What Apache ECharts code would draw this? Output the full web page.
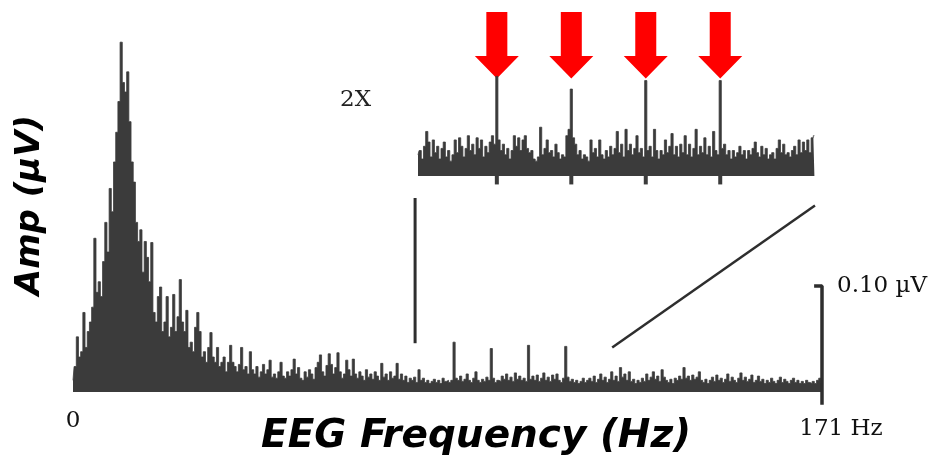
<!DOCTYPE html>
<html>
<head>
<meta charset="utf-8">
<script src="https://cdn.jsdelivr.net/npm/echarts@6/dist/echarts.min.js"></script>
<style>
html,body{margin:0;padding:0;background:#fff;}
#c{width:941px;height:459px;}
</style>
</head>
<body>
<div id="c"></div>
<script>
// ---- Data (amplitudes in nV, converted to µV for the axes) ----
const mainStartHz = 0;
const mainStepHz = 0.5;
const mainAmpNv = [
11,24,52,33,38,75,42,57,66,80,145,94,104,90,123,160,132,192,170,217,
245,274,330,292,283,302,255,217,198,160,142,153,113,142,127,104,141,75,66,90,
99,57,66,90,52,61,92,57,71,106,66,57,77,42,47,38,61,75,57,33,
38,28,42,56,33,28,42,24,28,33,19,28,44,28,24,19,26,42,21,24,
17,38,21,17,24,14,19,26,17,21,30,14,17,13,19,28,15,13,19,15,
21,31,17,23,13,11,19,14,21,17,12,23,28,35,19,15,25,36,26,17,
23,37,19,13,17,30,21,15,31,17,13,19,15,11,21,14,17,12,19,15,
11,27,14,17,11,19,13,15,27,12,17,11,15,9,13,11,14,9,21,11,
13,9,11,8,10,12,9,11,8,13,10,11,9,11,47,13,11,15,10,12,
17,11,9,13,19,11,9,12,10,14,11,41,13,9,11,10,15,12,17,11,
14,10,18,12,15,11,13,10,44,12,15,11,16,10,13,18,11,14,10,16,
12,17,11,9,13,43,14,10,12,9,11,8,10,13,9,11,13,10,15,9,
12,17,11,14,9,12,19,11,15,10,23,14,17,11,19,10,12,8,11,9,
13,10,17,11,14,19,12,15,10,21,14,11,9,12,8,13,11,15,12,23,
13,15,11,16,12,14,19,11,9,12,8,11,14,10,16,11,13,9,12,17,
10,14,11,9,13,18,11,14,10,12,16,9,11,15,10,12,8,11,9,13,
10,8,11,14,9,12,10,8,11,13,9,11,8,10,8,11,9,8,10,8,
11,13,9
];
const insetStartHz = 78;
const insetStepHz = 0.25;
const insetAmpNv = [
10,12,8,14,21,16,9,17,11,14,8,13,16,9,12,7,10,17,11,18,
14,9,13,19,12,15,10,18,13,17,9,14,11,16,19,15,47,17,12,15,
10,13,8,12,19,14,18,12,17,19,13,11,12,8,7,9,23,10,13,17,
11,12,9,15,11,8,10,9,19,22,41,18,15,10,12,8,10,9,7,17,
11,13,9,17,10,8,12,9,14,10,13,21,11,15,9,22,12,15,10,13,
19,11,13,9,45,12,14,9,22,12,8,12,10,17,11,14,20,10,14,9,
15,11,19,10,15,9,13,22,10,14,11,18,10,14,9,21,12,10,45,13,
15,10,12,8,12,9,11,14,10,12,8,12,10,13,16,11,9,14,10,13,
8,10,11,8,13,17,11,15,10,11,9,12,14,10,17,11,16,12,17,11,
18,19
];
const spikeHz = [87, 95.5, 104, 112.5];
const arrowLevelNv = 46;
const insetTickNv = -4;
const scaleBarHz = 171;
const scaleBarTopNv = 100;
const scaleBarBottomNv = -12;
const scaleBarTickHz = 169.2;
const scaleBarLabel = '0.10 µV';
const zoomGuideVertical = [[78.1, 183], [78.1, 46]];
const zoomGuideDiagonal = [[123.1, 42], [169.4, 176]];
const xTickLabels = ['0', '171 Hz'];
const insetLabel = '2X';
const xTitle = 'EEG Frequency (Hz)';
const yTitle = 'Amp (µV)';

const uv = nv => nv / 1000;
const mainData = mainAmpNv.map((v, i) => [mainStartHz + i * mainStepHz, uv(v)]);
const insetData = insetAmpNv.map((v, i) => [insetStartHz + i * insetStepHz, uv(v)]);

const SPEC = '#3b3b3b';
const serif = '"DejaVu Serif", "Liberation Serif", serif';
const sans = '"DejaVu Sans", Verdana, sans-serif';

const chart = echarts.init(document.getElementById('c'), null, {renderer: 'canvas'});
chart.setOption({
  animation: false,
  backgroundColor: '#ffffff',
  grid: [
    {left: 73, width: 749, top: 23.1, height: 381.6},
    {left: 418, width: 396.4, top: 48.8, height: 136.7}
  ],
  xAxis: [
    {gridIndex: 0, type: 'value', min: 0, max: 171, interval: 171,
     axisLine: {show: false}, axisTick: {show: false}, splitLine: {show: false},
     axisLabel: {show: true, margin: 5, showMinLabel: true, showMaxLabel: true,
       formatter: v => v === 0 ? '{a|' + xTickLabels[0] + '}' : '{b|' + xTickLabels[1] + '}',
       rich: {
         a: {fontFamily: serif, fontSize: 23, color: '#111', padding: [0, 0, 0, 0]},
         b: {fontFamily: serif, fontSize: 23, color: '#111', padding: [8, 0, 0, 38]}
       }}},
    {gridIndex: 1, type: 'value', min: 78, max: 123.25, show: false}
  ],
  yAxis: [
    {gridIndex: 0, type: 'value', min: -0.012, max: 0.348, show: false},
    {gridIndex: 1, type: 'value', min: -0.0045, max: 0.06, show: false}
  ],
  series: [
    {type: 'line', xAxisIndex: 0, yAxisIndex: 0, data: mainData, step: 'middle',
     showSymbol: false, symbol: 'none', silent: true,
     lineStyle: {color: SPEC, width: 0.8}, areaStyle: {color: SPEC, opacity: 1, origin: 0}},
    {type: 'line', xAxisIndex: 1, yAxisIndex: 1, data: insetData, step: 'middle',
     showSymbol: false, symbol: 'none', silent: true,
     lineStyle: {color: SPEC, width: 0.8}, areaStyle: {color: SPEC, opacity: 1, origin: 0}},
    {type: 'bar', xAxisIndex: 1, yAxisIndex: 1, barWidth: 4, silent: true,
     itemStyle: {color: SPEC},
     data: spikeHz.map(f => [f, uv(insetTickNv)])},
    {type: 'scatter', xAxisIndex: 1, yAxisIndex: 1, clip: false, silent: true,
     symbol: 'path://M11.5,0 L32.5,0 L32.5,44 L44,44 L22,66.5 L0,44 L11.5,44 Z',
     symbolSize: [44, 66.5], symbolOffset: [0, '-50%'],
     itemStyle: {color: '#ff0000', opacity: 1},
     data: spikeHz.map(f => [f, uv(arrowLevelNv)])},
    {type: 'line', xAxisIndex: 0, yAxisIndex: 0, silent: true, symbol: 'none', clip: false,
     lineStyle: {color: '#2e2e2e', width: 3.5},
     data: [[scaleBarTickHz, uv(scaleBarTopNv)], [scaleBarHz, uv(scaleBarTopNv)], [scaleBarHz, uv(scaleBarBottomNv)]]},
    {type: 'line', xAxisIndex: 0, yAxisIndex: 0, silent: true, symbol: 'none', clip: false,
     lineStyle: {color: '#2e2e2e', width: 3},
     data: zoomGuideVertical.map(p => [p[0], uv(p[1])])},
    {type: 'line', xAxisIndex: 0, yAxisIndex: 0, silent: true, symbol: 'none', clip: false,
     lineStyle: {color: '#2e2e2e', width: 2.5},
     data: zoomGuideDiagonal.map(p => [p[0], uv(p[1])])}
  ],
  graphic: [
    {type: 'text', left: 837, top: 275,
     style: {text: scaleBarLabel, fontFamily: serif, fontSize: 23, fill: '#111'}},
    {type: 'text', left: 340, top: 89,
     style: {text: insetLabel, fontFamily: serif, fontSize: 23, fill: '#222'}},
    {type: 'text', x: 476, y: 437,
     style: {text: xTitle, fontFamily: sans, fontSize: 39, fontWeight: 'bold', fontStyle: 'italic',
       fill: '#000', align: 'center', verticalAlign: 'middle'}},
    {type: 'text', x: 30, y: 205, rotation: Math.PI / 2,
     style: {text: yTitle, fontFamily: sans, fontSize: 34, fontWeight: 'bold', fontStyle: 'italic',
       fill: '#000', align: 'center', verticalAlign: 'middle'}}
  ]
});
</script>
</body>
</html>
